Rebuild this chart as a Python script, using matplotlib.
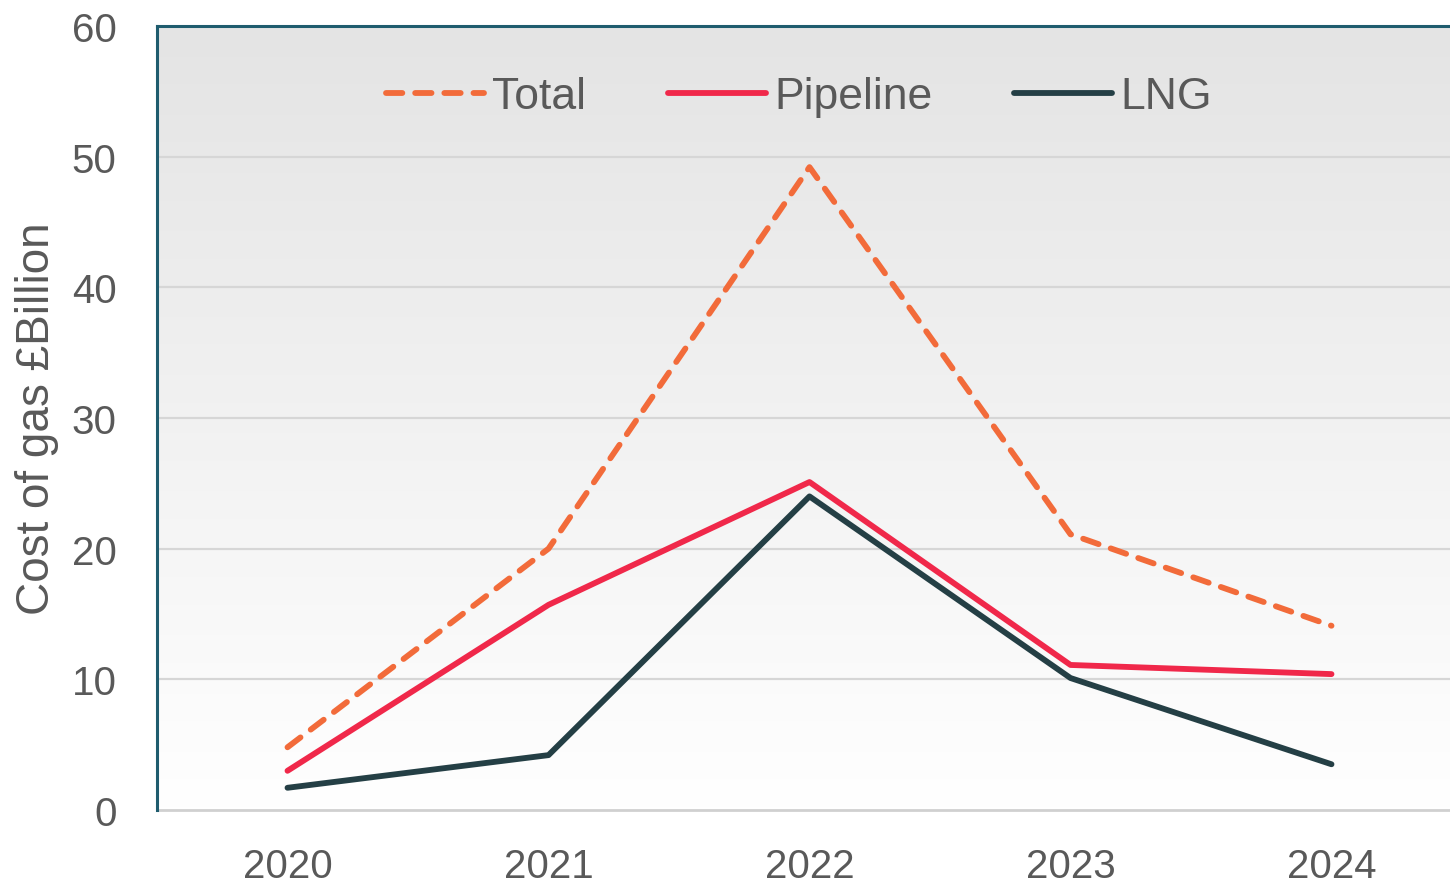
import numpy as np
import matplotlib
matplotlib.use('Agg')
import matplotlib.pyplot as plt

plt.rcParams['font.family'] = ['Liberation Sans', 'DejaVu Sans']

years = ['2020', '2021', '2022', '2023', '2024']
total = [4.8, 20.0, 49.2, 21.1, 14.1]
pipeline = [3.0, 15.7, 25.1, 11.1, 10.4]
lng = [1.7, 4.2, 24.0, 10.1, 3.5]

grey_txt = '#595959'
spine_col = '#1F5C6E'

fig = plt.figure(figsize=(14.5, 8.87), dpi=100)
ax = fig.add_axes([157 / 1450, 1 - 811 / 887, 1305 / 1450, 784 / 887])

x = np.arange(len(years))

# 背景渐变：上灰下白
grad = np.linspace(0, 1, 256).reshape(-1, 1)
cmap = matplotlib.colors.LinearSegmentedColormap.from_list('bg', ['#E4E4E4', '#FFFFFF'])
ax.imshow(grad, aspect='auto', cmap=cmap, extent=[0, 1, 0, 1],
          transform=ax.transAxes, zorder=0)

for v in [10, 20, 30, 40, 50]:
    ax.axhline(v, color='#D6D6D6', lw=1.6, zorder=1)
ax.axhline(0, color='#D0D0D0', lw=2, zorder=1, clip_on=False)

ax.plot(x, total, color='#F26B3A', lw=4.2, dashes=(2.8, 2.2),
        dash_capstyle='round', solid_capstyle='round', label='Total', zorder=3)
ax.plot(x, pipeline, color='#F0284A', lw=4.2, solid_capstyle='round', label='Pipeline', zorder=3)
ax.plot(x, lng, color='#243F45', lw=4.2, solid_capstyle='round', label='LNG', zorder=3)

ax.set_xlim(-0.5, 4.5)
ax.set_ylim(0, 60)
ax.set_xticks(x)
ax.set_xticklabels(years)
ax.set_yticks(range(0, 61, 10))
ax.tick_params(axis='both', length=0, labelsize=29, labelcolor=grey_txt)
ax.tick_params(axis='x', pad=27)
ax.tick_params(axis='y', pad=29)

for s in ['left', 'top']:
    ax.spines[s].set_color(spine_col)
    ax.spines[s].set_linewidth(2.2)
ax.spines['right'].set_visible(False)
ax.spines['bottom'].set_visible(False)

ax.set_ylabel('Cost of gas £Billion', fontsize=33, color=grey_txt)
ax.yaxis.set_label_coords(-0.075, 0.5)

leg = ax.legend(ncol=3, loc='center', bbox_to_anchor=(0.492, 0.91), frameon=False,
                fontsize=32, handlelength=2.2, handletextpad=0.18, columnspacing=1.85,
                labelcolor=grey_txt)

fig.savefig('out.png', dpi=100)
